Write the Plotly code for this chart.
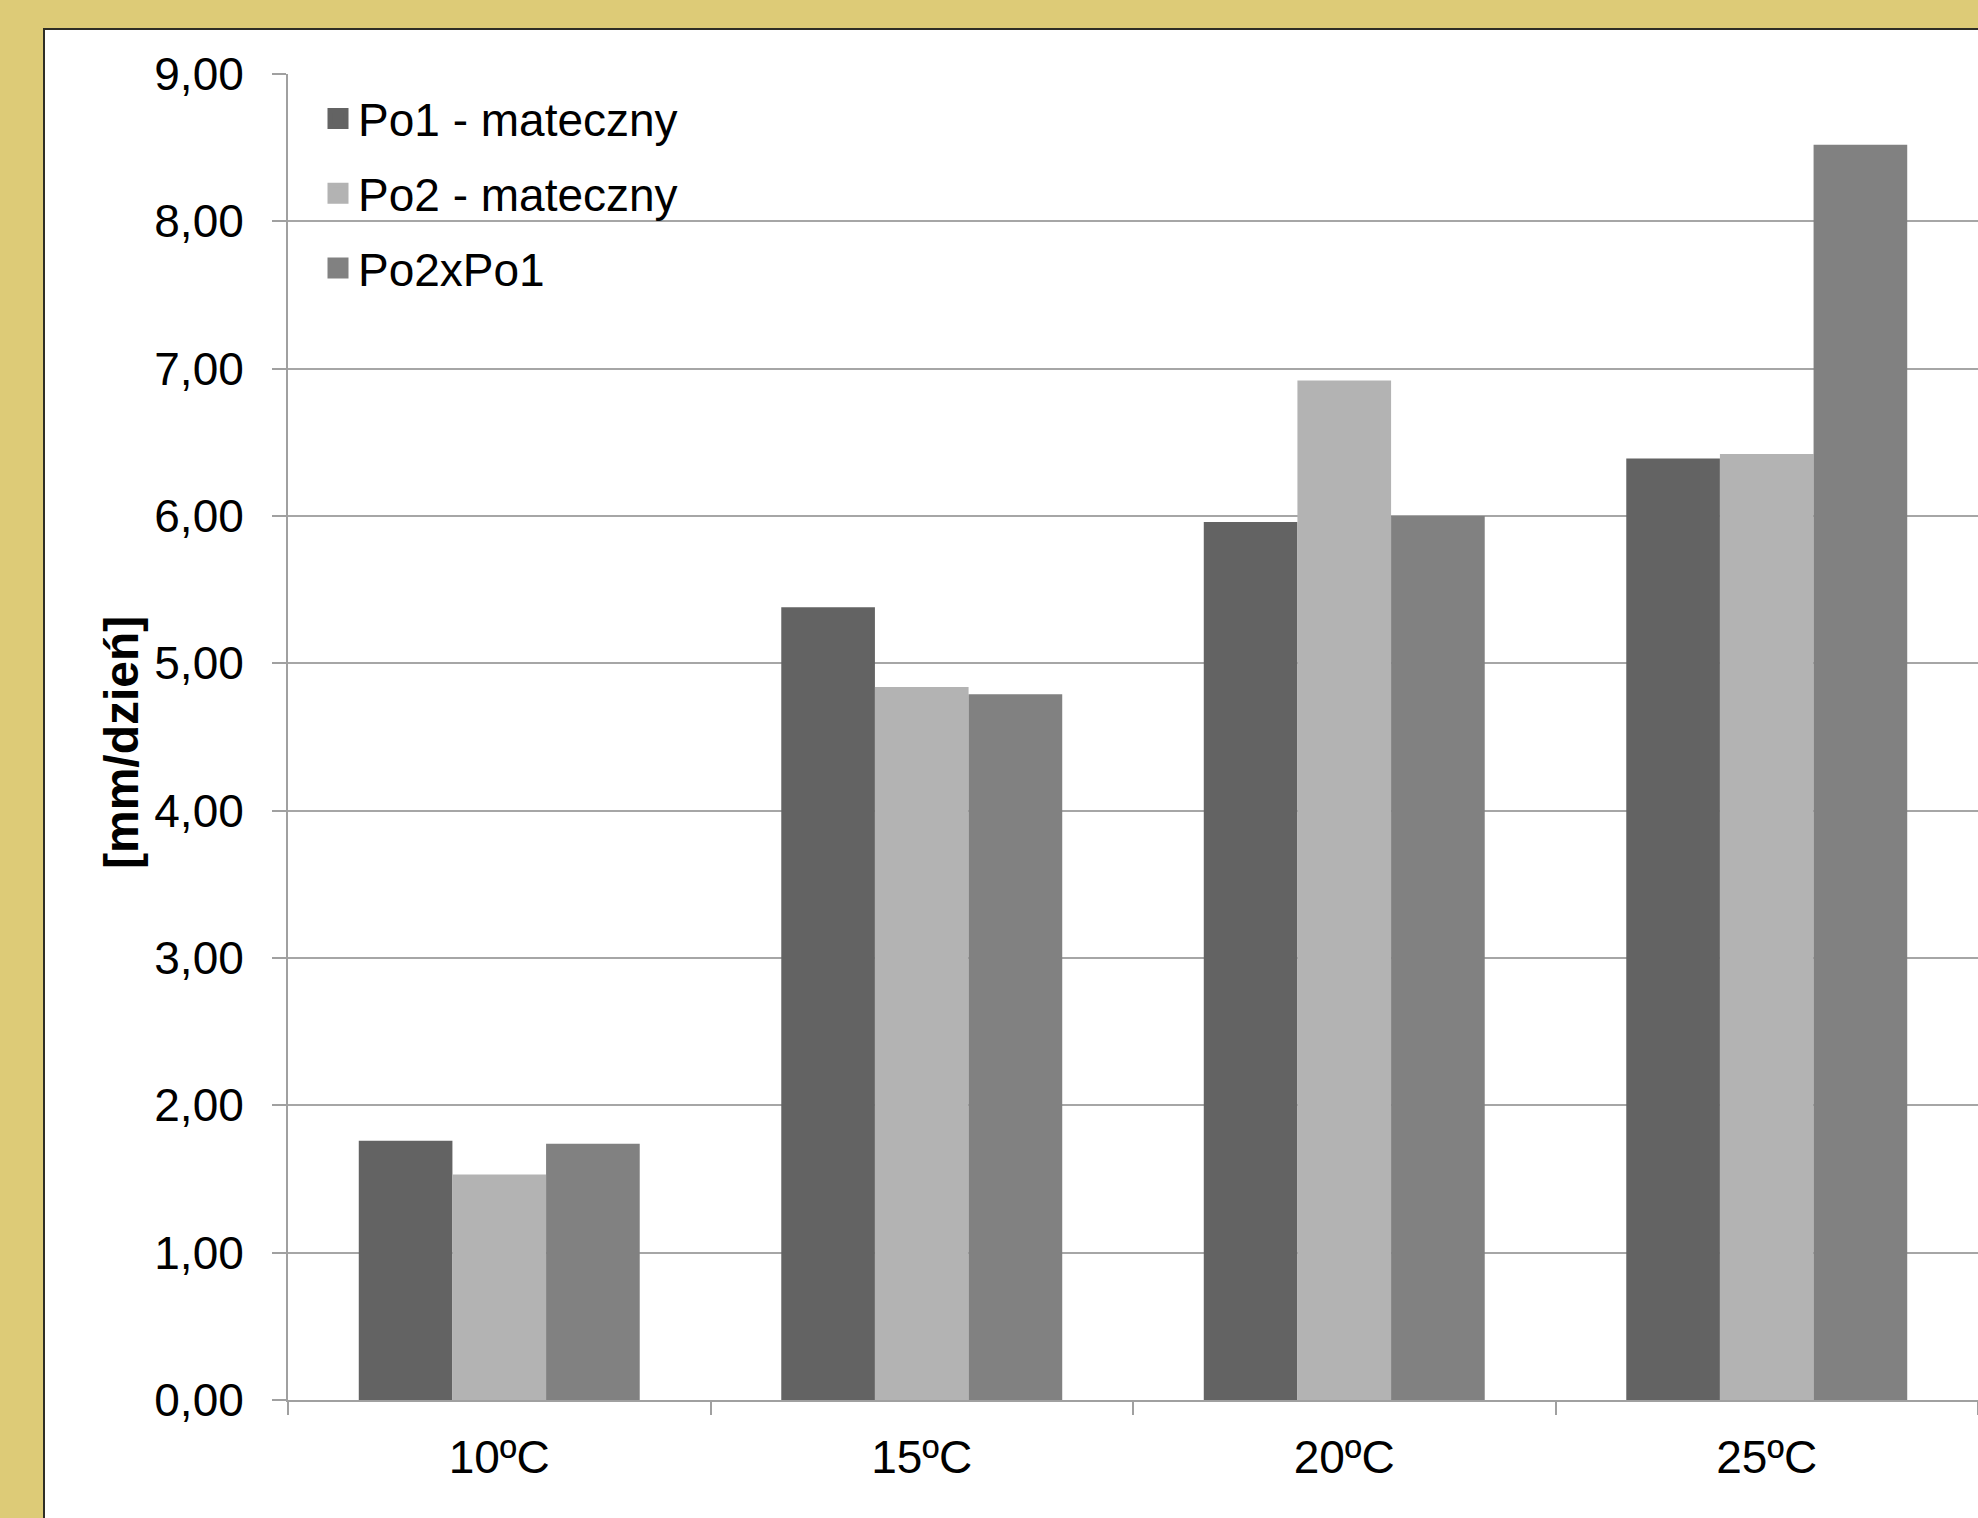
import plotly.graph_objects as go

# ---- data ----
categories = ["10ºC", "15ºC", "20ºC", "25ºC"]
series_names = ["Po1 - mateczny", "Po2 - mateczny", "Po2xPo1"]
po1_values = [1.76, 5.38, 5.96, 6.39]
po2_values = [1.53, 4.84, 6.92, 6.42]
po2xpo1_values = [1.74, 4.79, 6.00, 8.52]
y_tick_values = [0, 1, 2, 3, 4, 5, 6, 7, 8, 9]
y_axis_title = "[mm/dzień]"

# ---- style / layout constants ----
W, H = 1978, 1518
ML, MR, MT, MB = 288, 0, 74, 118
PW, PH = W - ML - MR, H - MT - MB
colors = ["#636363", "#b3b3b3", "#818181"]
FONT = "Liberation Sans, Arial, sans-serif"
FS = 46
GOLD = "#ddcb77"


def px_x(px):
    return (px - ML) / PW


def px_y(py):
    return (H - MB - py) / PH


fig = go.Figure()
for name, vals, col in zip(series_names, [po1_values, po2_values, po2xpo1_values], colors):
    fig.add_trace(go.Bar(
        x=categories, y=vals, name=name, legendgroup=name, showlegend=False,
        marker=dict(color=col, line=dict(width=0)),
    ))
# legend entries (square symbols, larger than plotly's fixed bar legend icon)
for name, col in zip(series_names, colors):
    fig.add_trace(go.Scatter(
        x=[None], y=[None], mode="markers", name=name, legendgroup=name,
        marker=dict(symbol="square", size=16, color=col, line=dict(color=col, width=5)),
        hoverinfo="skip",
    ))

fig.update_layout(
    width=W, height=H,
    margin=dict(l=ML, r=MR, t=MT, b=MB, autoexpand=False),
    paper_bgcolor=GOLD,
    plot_bgcolor="white",
    barmode="group",
    bargap=0.335,
    bargroupgap=0,
    separators=", ",
    font=dict(family=FONT, size=FS, color="black"),
    showlegend=True,
    legend=dict(
        x=px_x(318), y=px_y(82), xanchor="left", yanchor="top",
        bgcolor="rgba(0,0,0,0)", borderwidth=0,
        font=dict(family=FONT, size=FS, color="black"),
        tracegroupgap=12, itemwidth=30,
    ),
    xaxis=dict(
        type="category",
        showline=True, linecolor="#a0a0a0", linewidth=2,
        ticks="outside", tickson="boundaries", ticklen=13, tickcolor="#a0a0a0", tickwidth=2,
        showgrid=False,
        tickfont=dict(family=FONT, size=FS, color="black"),
        ticklabelstandoff=16,
        range=[-0.5, 3.5],
    ),
    yaxis=dict(
        range=[0, 9],
        tickvals=y_tick_values,
        tickformat=".2f",
        showline=True, linecolor="#a0a0a0", linewidth=2,
        ticks="outside", ticklen=14, tickcolor="#a0a0a0", tickwidth=2,
        showgrid=True, gridcolor="#a6a6a6", gridwidth=2,
        zeroline=False,
        tickfont=dict(family=FONT, size=FS, color="black"),
        ticklabelstandoff=19,
    ),
    shapes=[dict(
        type="rect", xref="paper", yref="paper", layer="below",
        x0=px_x(44), x1=px_x(W + 50), y0=px_y(H + 50), y1=px_y(29),
        fillcolor="white", line=dict(color="#2e2e26", width=2),
    )],
    annotations=[dict(
        text="<b>" + y_axis_title + "</b>", xref="paper", yref="paper",
        x=px_x(121), y=px_y(743), xanchor="center", yanchor="middle",
        textangle=-90, showarrow=False,
        font=dict(family=FONT, size=48, color="black"),
    )],
)

fig.write_html(
    "out.html",
    config={"displayModeBar": False},
    post_script="document.body.style.margin='0';document.body.style.overflow='hidden';",
)
